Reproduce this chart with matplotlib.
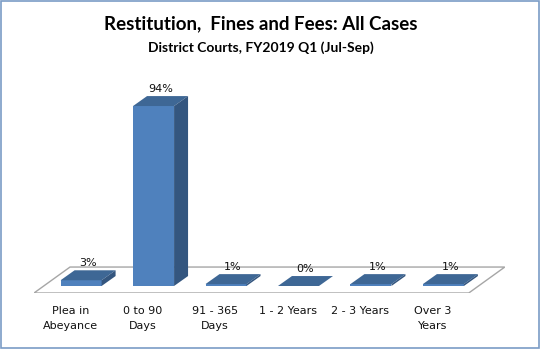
import matplotlib
matplotlib.use("Agg")
import matplotlib.pyplot as plt
from matplotlib.patches import Polygon, Rectangle

categories = ["Plea in\nAbeyance", "0 to 90\nDays", "91 - 365\nDays", "1 - 2 Years", "2 - 3 Years", "Over 3\nYears"]
values = [3, 94, 1, 0, 1, 1]
labels = ["3%", "94%", "1%", "0%", "1%", "1%"]

FRONT, TOP, SIDE = "#4F81BD", "#3E6795", "#34567F"
shift, width = 0.15, 0.566       # bar placement on the floor, bar width (category units)
dx, dy = 0.193, 5.2              # bar depth offset (x units, % units)
fdx, f0, f1 = 0.497, -3.66, 9.9  # floor depth offset, front/back y

fig = plt.figure(figsize=(5.41, 3.49), dpi=100)
fig.patches.append(Rectangle((0.002, 0.003), 0.995, 0.993, transform=fig.transFigure,
                             fill=False, edgecolor="#7A9CC6", linewidth=1.2))
W, H = 541, 349
ax = fig.add_axes([34 / W, (H - 293) / H, 471 / W, 213 / H])
ax.set_xlim(-0.5, 6.0)
ax.set_ylim(-3.66, 107.6)
ax.set_axis_off()

# floor
ax.add_patch(Polygon([(-0.5, f0), (5.5, f0), (5.5 + fdx, f1), (fdx - 0.5, f1)], closed=True,
                     facecolor="white", edgecolor="#A6A6A6", linewidth=1.0, zorder=1))

xs = [i + shift for i in range(len(values))]
ax.bar(xs, values, width=width, color=FRONT, zorder=3, linewidth=0)
for x, v, lab in zip(xs, values, labels):
    l, r = x - width / 2, x + width / 2
    ax.add_patch(Polygon([(l, v), (r, v), (r + dx, v + dy), (l + dx, v + dy)], closed=True,
                         facecolor=TOP, edgecolor="none", zorder=3))
    ax.add_patch(Polygon([(r, 0), (r + dx, dy), (r + dx, v + dy), (r, v)], closed=True,
                         facecolor=SIDE, edgecolor="none", zorder=3))
    ax.text(x + dx / 2, v + dy + 1.2, lab, ha="center", va="bottom", fontsize=8,
            family="DejaVu Sans", color="#111111", zorder=4)

for i, c in enumerate(categories):
    fig.text((34 + 72.5 * (i + 0.5)) / W, 1 - 306 / H, c, ha="center", va="top",
             fontsize=8, family="DejaVu Sans", color="#111111", linespacing=1.6)

fig.text(261 / W, 1 - 24 / H, "Restitution,  Fines and Fees: All Cases", ha="center", va="center",
         fontsize=13.5, fontweight="bold", family=["Lato", "DejaVu Sans"])
fig.text(261 / W, 1 - 48 / H, "District Courts, FY2019 Q1 (Jul-Sep)", ha="center", va="center",
         fontsize=10, fontweight="bold", family=["Lato", "DejaVu Sans"])

fig.savefig("out.png", dpi=100)
